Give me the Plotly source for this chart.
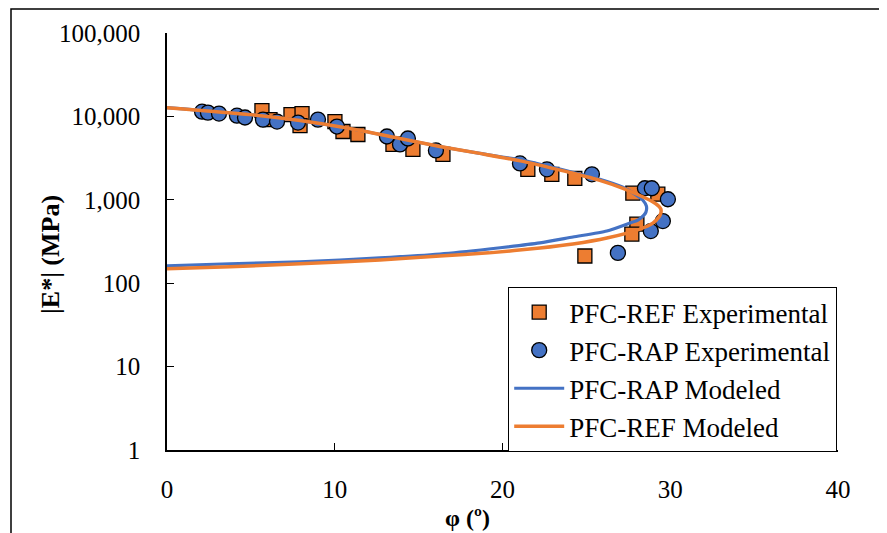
import plotly.graph_objects as go

# ---- data ----
ref_exp_phi = [5.66, 6.14, 7.39, 8.05, 7.93, 10.01, 10.49, 11.38, 13.47, 14.66, 16.45,
               21.51, 22.94, 24.31, 27.77, 29.26, 28.01, 27.71, 24.91]
ref_exp_E = [11720, 9150, 10500, 10800, 7770, 8670, 6590, 6070, 4610, 4020, 3500,
             2320, 2020, 1810, 1200, 1167, 512, 388, 212]

rap_exp_phi = [2.09, 2.44, 3.10, 4.17, 4.65, 5.72, 6.56, 7.81, 9.00, 10.13, 13.11, 13.89,
               14.36, 16.03, 21.04, 22.65, 25.33, 28.49, 28.90, 29.86, 29.56, 28.84, 26.88]
rap_exp_E = [11400, 11100, 10800, 10200, 9700, 9150, 8670, 8430, 9150, 7560, 5740, 4610,
             5430, 3910, 2730, 2320, 2020, 1375, 1375, 1015, 556, 422, 231]

rap_mod_phi = [0, 4.95, 7.93, 10.91, 13.89, 16.27, 18.65, 21.22, 24.20, 25.80, 27.18, 28.07,
               28.37, 28.58, 28.55, 28.43, 28.07, 27.59, 26.22, 24.20, 22.23, 19.19, 16.27,
               12.69, 7.93, 3.75, 0]
rap_mod_E = [12735, 10500, 8910, 7150, 5430, 4360, 3600, 2970, 2135, 1762, 1413, 1104,
             989, 839, 711, 655, 571, 526, 422, 358, 304, 257, 224,
             201, 180, 171, 161]

ref_mod_phi = [0, 4.95, 7.93, 10.91, 13.89, 16.27, 18.65, 21.22, 24.20, 25.80, 27.18, 28.01,
               28.90, 29.32, 29.44, 29.44, 29.32, 28.96, 28.19, 26.22, 24.20, 22.23, 19.19,
               16.27, 12.69, 7.93, 3.75, 0]
ref_mod_E = [12735, 10500, 8910, 7150, 5430, 4360, 3600, 2890, 2080, 1713, 1375, 1167,
             962, 839, 773, 692, 620, 526, 446, 348, 295, 264, 231,
             212, 190, 171, 157, 149]

y_tickvals = [1, 10, 100, 1000, 10000, 100000]
y_ticktext = ["1", "10", "100", "1,000", "10,000", "100,000"]
x_tickvals = [0, 10, 20, 30, 40]

ORANGE = "#ED7D31"
BLUE = "#4472C4"
FONT = "Liberation Serif"

fig = go.Figure()
fig.add_trace(go.Scatter(x=ref_exp_phi, y=ref_exp_E, mode="markers", name="PFC-REF Experimental",
                         marker=dict(symbol="square", size=14, color=ORANGE,
                                     line=dict(color="black", width=1.3))))
fig.add_trace(go.Scatter(x=rap_exp_phi, y=rap_exp_E, mode="markers", name="PFC-RAP Experimental",
                         marker=dict(symbol="circle", size=15, color=BLUE,
                                     line=dict(color="black", width=1.3))))
fig.add_trace(go.Scatter(x=rap_mod_phi, y=rap_mod_E, mode="lines", name="PFC-RAP Modeled",
                         line=dict(color=BLUE, width=3.2, shape="spline", smoothing=0.6)))
fig.add_trace(go.Scatter(x=ref_mod_phi, y=ref_mod_E, mode="lines", name="PFC-REF Modeled",
                         line=dict(color=ORANGE, width=3.5, shape="spline", smoothing=0.6)))

# the page body has an 8px margin, so the figure is 8px smaller and margins shifted
fig.update_layout(
    width=879, height=525,
    margin=dict(l=159, r=49, t=23, b=83),
    paper_bgcolor="white", plot_bgcolor="white",
    font=dict(family=FONT, size=25, color="black"),
    showlegend=True,
    legend=dict(x=(508 - 167) / 671, y=(450 - 286) / 419, xanchor="left", yanchor="top",
                bgcolor="white", bordercolor="black", borderwidth=1.2,
                font=dict(family=FONT, size=27, color="black"),
                itemwidth=50, tracegroupgap=0),
    xaxis=dict(range=[0, 40], tickvals=x_tickvals, showgrid=False, zeroline=False,
               showline=True, linecolor="black", linewidth=1.5,
               ticks="inside", ticklen=7, tickcolor="black", tickwidth=1.3,
               ticklabelstandoff=16, tickfont=dict(family=FONT, size=25)),
    yaxis=dict(type="log", range=[0, 5], tickvals=y_tickvals, ticktext=y_ticktext,
               showgrid=False, zeroline=False,
               showline=True, linecolor="black", linewidth=1.5,
               ticks="inside", ticklen=7, tickcolor="black", tickwidth=1.3,
               ticklabelstandoff=20, tickfont=dict(family=FONT, size=25)),
)

# outer frame of the original chart area
fig.add_shape(type="rect", xref="paper", yref="paper",
              x0=(11 - 167) / 671, x1=(895 - 167) / 671,
              y0=(450 - 545) / 419, y1=(450 - 7) / 419,
              line=dict(color="black", width=1.5), fillcolor="rgba(0,0,0,0)", layer="below")

# axis titles
fig.add_annotation(text="<b>|E*| (MPa)</b>", xref="paper", yref="paper",
                   x=(51 - 167) / 671, y=(450 - 254) / 419, showarrow=False, textangle=-90,
                   font=dict(family=FONT, size=26, color="black"), xanchor="center", yanchor="middle")
fig.add_annotation(text="<b>φ (º)</b>", xref="paper", yref="paper",
                   x=(467 - 167) / 671, y=(450 - 518) / 419, showarrow=False,
                   font=dict(family=FONT, size=24, color="black"), xanchor="center", yanchor="middle")

fig.write_html("out.html")
